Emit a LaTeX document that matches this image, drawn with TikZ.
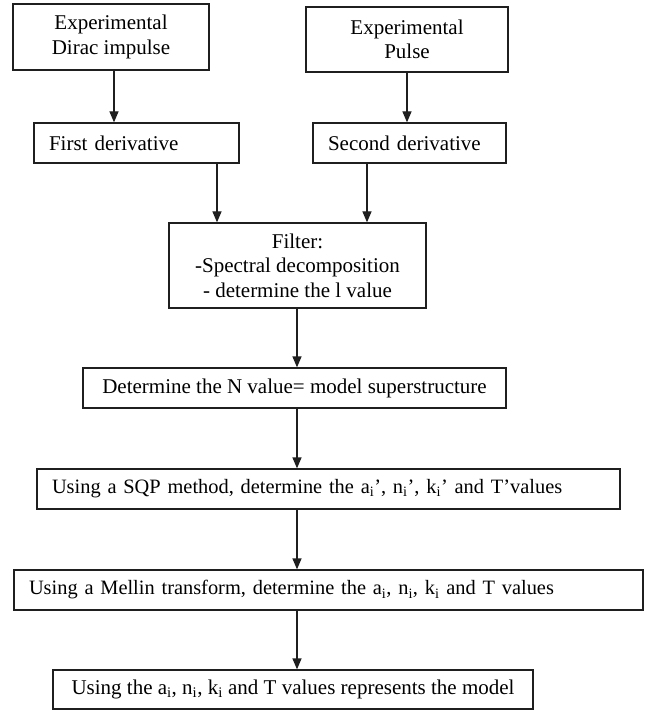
\documentclass[tikz,border=0pt]{standalone}
\usepackage{fontspec}
\setmainfont{Liberation Serif}
\usetikzlibrary{arrows.meta}
\begin{document}
\begin{tikzpicture}[x=1pt,y=-1pt,
  box/.style={draw=black!88, line width=1.3pt, inner sep=0pt, font=\fontsize{21}{24.5}\selectfont},
  cbox/.style={box, align=center},
  lbox/.style={box, align=left, inner xsep=15pt},
  narrow/.style={font=\fontsize{20.4}{24}\selectfont},
  arr/.style={line width=1.3pt, draw=black!88, -{Triangle[length=11pt,width=9pt]}}]
\useasboundingbox (0,0) rectangle (654,711);
\fill[white] (0,0) rectangle (654,711);
\node[cbox, minimum width=196pt, minimum height=66pt] (b1) at (111,37) {Experimental\\Dirac impulse};
\node[cbox, minimum width=202pt, minimum height=65pt] (b2) at (407,39.5) {Experimental\\Pulse};
\node[lbox, minimum width=205pt, minimum height=40pt, text width=175pt] (fd) at (136.5,143) {First derivative};
\node[lbox, minimum width=193pt, minimum height=40pt, text width=163pt] (sd) at (409.5,143) {Second derivative};
\node[cbox, minimum width=257pt, minimum height=85pt] (filt) at (297.5,265.5) {Filter:\\-Spectral decomposition\\- determine the l value};
\node[cbox, minimum width=423pt, minimum height=40pt] (nv) at (294.5,388) {Determine the N value= model superstructure};
\node[lbox, narrow, minimum width=583pt, minimum height=40pt, text width=553pt] (sqp) at (328.5,489) {Using a SQP method, determine the a\textsubscript{i}’, n\textsubscript{i}’, k\textsubscript{i}’ and T’values};
\node[lbox, narrow, minimum width=629pt, minimum height=40pt, text width=599pt] (mel) at (328.5,590) {Using a Mellin transform, determine the a\textsubscript{i}, n\textsubscript{i}, k\textsubscript{i} and T values};
\node[cbox, minimum width=480pt, minimum height=39pt] (last) at (293,689.5) {Using the a\textsubscript{i}, n\textsubscript{i}, k\textsubscript{i} and T values represents the model};
\coordinate (x1) at (114,0);
\coordinate (x2) at (407,0);
\coordinate (x3) at (217,0);
\coordinate (x4) at (367,0);
\coordinate (ax) at (297,0);
\draw[arr] (b1.south -| x1) -- (fd.north -| x1);
\draw[arr] (b2.south -| x2) -- (sd.north -| x2);
\draw[arr] (fd.south -| x3) -- (filt.north -| x3);
\draw[arr] (sd.south -| x4) -- (filt.north -| x4);
\draw[arr] (filt.south -| ax) -- (nv.north -| ax);
\draw[arr] (nv.south -| ax) -- (sqp.north -| ax);
\draw[arr] (sqp.south -| ax) -- (mel.north -| ax);
\draw[arr] (mel.south -| ax) -- (last.north -| ax);
\end{tikzpicture}
\end{document}
